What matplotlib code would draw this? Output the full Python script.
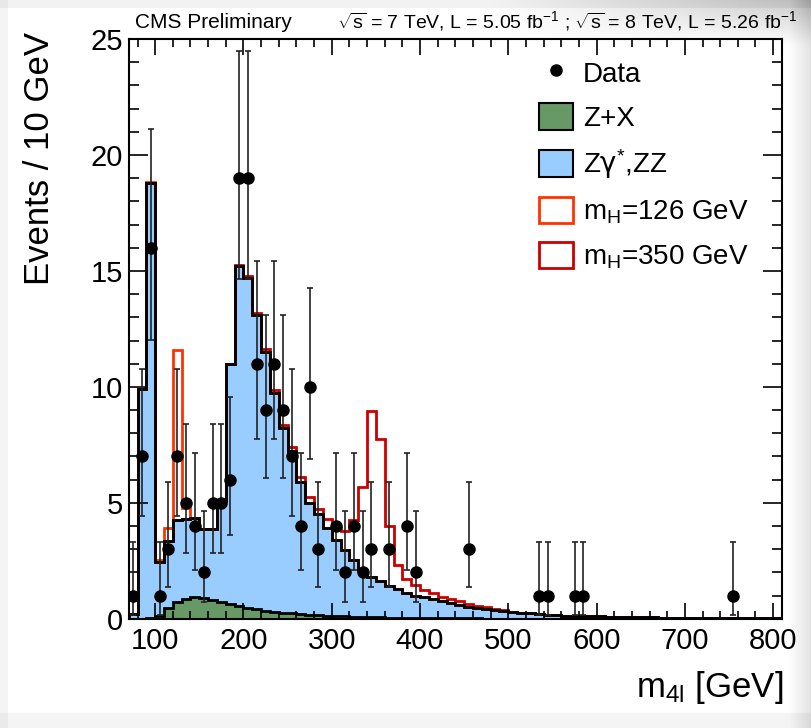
import numpy as np
import matplotlib.pyplot as plt
from matplotlib.patches import Patch
from matplotlib.lines import Line2D
from matplotlib.ticker import MultipleLocator

plt.rcParams['font.family'] = ['Liberation Sans', 'DejaVu Sans']
plt.rcParams['mathtext.fontset'] = 'custom'
plt.rcParams['mathtext.rm'] = 'Liberation Sans'
plt.rcParams['mathtext.it'] = 'Liberation Sans'
plt.rcParams['mathtext.bf'] = 'Liberation Sans:bold'
plt.rcParams['mathtext.sf'] = 'DejaVu Sans'

# 10 GeV bins from 70 to 810 GeV
BIN_LO, BIN_HI, BIN_W = 70, 810, 10
edges = np.arange(BIN_LO, BIN_HI + 1, BIN_W)

# total expected background (Z+X stacked with ZZ/Zgamma*), one value per bin
bkg_total = [
    0.2, 9.9, 18.8, 2.45, 3.37, 4.25, 4.32, 4.35, 3.86, 3.86,
    5.1, 11.0, 15.2, 14.7, 13.1, 11.5, 9.72, 8.21, 7.24, 5.9,
    5.0, 4.5, 3.9, 3.4, 2.95, 2.54, 2.1, 1.8, 1.65, 1.43,
    1.28, 1.1, 1.0, 0.92, 0.85, 0.75, 0.68, 0.6, 0.53, 0.47,
    0.42, 0.38, 0.33, 0.29, 0.26, 0.23, 0.2, 0.18, 0.16, 0.14,
    0.13, 0.12, 0.11, 0.1, 0.09, 0.08, 0.07, 0.07, 0.06, 0.06,
    0.05, 0.05, 0.05, 0.04, 0.04, 0.04, 0.03, 0.03, 0.03, 0.03,
    0.02, 0.02, 0.02, 0.02,
]

# reducible background
zx = [
    0.0, 0.0, 0.02, 0.12, 0.45, 0.72, 0.87, 0.92, 0.88, 0.8,
    0.72, 0.63, 0.56, 0.48, 0.42, 0.35, 0.3, 0.26, 0.23, 0.2,
    0.18, 0.16, 0.14, 0.12, 0.1, 0.09, 0.08, 0.07, 0.06, 0.05,
    0.05, 0.04, 0.04, 0.03, 0.03, 0.03, 0.02, 0.02, 0.02, 0.02,
    0.01, 0.01, 0.01, 0.01, 0.01, 0.01, 0.01, 0.01, 0.01, 0.01,
    0.0, 0.0, 0.0, 0.0, 0.0, 0.0, 0.0, 0.0, 0.0, 0.0,
    0.0, 0.0, 0.0, 0.0, 0.0, 0.0, 0.0, 0.0, 0.0, 0.0,
    0.0, 0.0, 0.0, 0.0,
]

# signal expectations on top of background, starting at the given bin edge
sig126_start = 90
sig126 = [0.05, 0.1, 0.53, 7.35, 0.44]
sig350_start = 190
sig350 = [
    0.05, 0.07, 0.1, 0.14, 0.13, 0.14, 0.16, 0.2, 0.25, 0.25,
    0.4, 0.5, 0.85, 1.7, 3.6, 7.15, 6.1, 2.55, 1.06, 0.6,
    0.45, 0.33, 0.25, 0.2, 0.17, 0.15, 0.12, 0.1, 0.08, 0.06,
    0.04, 0.0,
]

# observed events (empty bins are not drawn)
data_mass = [75, 85, 95, 105, 115, 125, 135, 145, 155, 165,
             175, 185, 195, 205, 215, 225, 235, 245, 255, 265,
             275, 285, 305, 315, 325, 335, 345, 365, 385, 395,
             455, 535, 545, 575, 585, 755]
data_count = [1, 7, 16, 1, 3, 7, 5, 4, 2, 5,
              5, 6, 19, 19, 11, 9, 11, 9, 7, 4,
              10, 3, 4, 2, 4, 2, 3, 3, 4, 2,
              3, 1, 1, 1, 1, 1]

# 68% Garwood intervals for Poisson counts
garwood_lo = {1: 0.173, 2: 0.708, 3: 1.367, 4: 2.086, 5: 2.840, 6: 3.620,
              7: 4.419, 9: 6.057, 10: 6.891, 11: 7.734, 16: 12.04, 19: 14.67}
garwood_hi = {1: 3.300, 2: 4.638, 3: 5.918, 4: 7.163, 5: 8.382, 6: 9.584,
              7: 10.77, 9: 13.11, 10: 14.27, 11: 15.42, 16: 21.11, 19: 24.48}

C_ZZ = '#99ccff'
C_ZX = '#669966'
C_126 = '#ff3300'
C_350 = '#cc0000'


def pad(start, vals):
    out = np.zeros(len(edges) - 1)
    i = (start - BIN_LO) // BIN_W
    out[i:i + len(vals)] = vals
    return out


bkg = np.array(bkg_total)
zxv = np.array(zx)
tot126 = bkg + pad(sig126_start, sig126)
tot350 = bkg + pad(sig350_start, sig350)

W, H = 812, 728
fig = plt.figure(figsize=(W / 100, H / 100), dpi=100)

# soft grey shadow around the canvas border
yy, xx = np.mgrid[0:H, 0:W]
dark = 0.22 * np.clip(1 - (W - xx) / 320, 0, 1) * np.clip(1 - yy / 45, 0, 1)
dark += 0.12 * np.clip(1 - (W - xx) / 24, 0, 1)
dark += 0.05 * (yy < 8) + 0.04 * (yy > H - 16) + 0.04 * (xx < 8)
shade = np.clip(1 - dark, 0, 1)
bg = fig.add_axes([0, 0, 1, 1], zorder=-10)
bg.imshow(np.dstack([shade] * 3), aspect='auto', interpolation='bilinear')
bg.axis('off')

ax = fig.add_axes([0.1585, 0.150, 0.8045, 0.7964])

ax.stairs(bkg, edges, fill=True, color=C_ZZ, lw=0)
ax.stairs(zxv, edges, fill=True, color=C_ZX, lw=0)
ax.stairs(tot126, edges, color=C_126, lw=2)
ax.stairs(tot350, edges, color=C_350, lw=2)
ax.stairs(zxv, edges, color='black', lw=2)
ax.stairs(bkg, edges, color='black', lw=2)

cnt = np.array(data_count)
lo = cnt - np.array([garwood_lo[c] for c in data_count])
hi = np.array([garwood_hi[c] for c in data_count]) - cnt
ax.errorbar(data_mass, cnt, yerr=[lo, hi], fmt='o', color='black', ms=8,
            ecolor='#222222', elinewidth=1.2, capsize=2.5, capthick=1.2,
            zorder=5)

ax.set_xlim(BIN_LO, BIN_HI)
ax.set_ylim(0, 25)
ax.xaxis.set_major_locator(MultipleLocator(100))
ax.xaxis.set_minor_locator(MultipleLocator(20))
ax.yaxis.set_major_locator(MultipleLocator(5))
ax.yaxis.set_minor_locator(MultipleLocator(1))
ax.tick_params(which='both', direction='in', top=True, right=True, width=1.2)
ax.tick_params(axis='x', which='major', length=11.5, pad=6, labelsize=21)
ax.tick_params(axis='x', which='minor', length=5.8)
ax.tick_params(axis='y', which='major', length=13.5, pad=4, labelsize=21)
ax.tick_params(axis='y', which='minor', length=7)
for s in ax.spines.values():
    s.set_linewidth(1.5)

fig.text(40 / W, 1 - 32 / H, 'Events / 10 GeV', rotation=90,
         ha='center', va='top', fontsize=25)
fig.text(783 / W, 1 - 697 / H, 'm$_{4l}$ [GeV]', ha='right',
         va='baseline', fontsize=25)
fig.text(135 / W, 1 - 28 / H, 'CMS Preliminary', ha='left',
         va='baseline', fontsize=15)
fig.text(797 / W, 1 - 28 / H,
         r'$\sqrt{s}$ = 7 TeV, L = 5.05 fb$^{-1}$ ; $\sqrt{s}$ = 8 TeV, L = 5.26 fb$^{-1}$',
         ha='right', va='baseline', fontsize=14)

handles = [
    Line2D([], [], marker='o', ls='none', color='black', ms=8),
    Patch(fc=C_ZX, ec='black', lw=1.5),
    Patch(fc=C_ZZ, ec='black', lw=1.5),
    Patch(fc='white', ec=C_126, lw=2),
    Patch(fc='white', ec=C_350, lw=2),
]
labels = ['Data', 'Z+X', 'Z$\\mathsf{\\gamma}^{*}$,ZZ',
          'm$_{H}$=126 GeV', 'm$_{H}$=350 GeV']
ax.legend(handles, labels, loc='upper left', bbox_to_anchor=(0.6277, 0.966),
          frameon=False, fontsize=20, handlelength=1.25, handleheight=1.1,
          handletextpad=0.35, labelspacing=0.56, borderaxespad=0, borderpad=0)

fig.savefig('out.png', dpi=100)
